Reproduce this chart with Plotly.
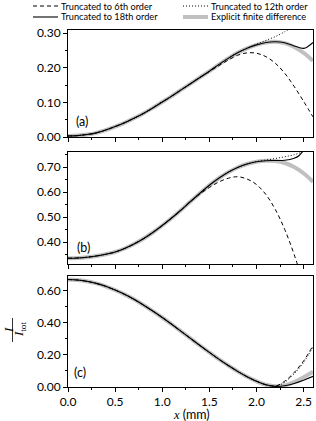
import plotly.graph_objects as go

# ---------------- data ----------------
X = [0.0, 0.1, 0.2, 0.3, 0.4, 0.5, 0.6, 0.7, 0.8, 0.9, 1.0, 1.1, 1.2, 1.3,
     1.4, 1.5, 1.6, 1.7, 1.8, 1.9, 2.0, 2.1, 2.2, 2.3, 2.4, 2.5, 2.6]

# panel (a)
a_fd = [0.003, 0.004, 0.007, 0.012, 0.020, 0.030, 0.041, 0.054, 0.068, 0.084,
        0.101, 0.118, 0.136, 0.154, 0.172, 0.190, 0.209, 0.227, 0.243, 0.256,
        0.266, 0.273, 0.275, 0.271, 0.260, 0.243, 0.220]
a6_x = [1.5, 1.6, 1.7, 1.8, 1.9, 2.0, 2.1, 2.2, 2.3, 2.4, 2.5, 2.6]
a6_y = [0.189, 0.206, 0.222, 0.236, 0.243, 0.242, 0.232, 0.213, 0.184, 0.146, 0.103, 0.058]
a12_x = [2.0, 2.1, 2.2, 2.3, 2.4]
a12_y = [0.268, 0.279, 0.290, 0.304, 0.320]
a18_x = [2.3, 2.4, 2.5, 2.55, 2.6]
a18_y = [0.272, 0.263, 0.256, 0.262, 0.273]

# panel (b)
b_fd = [0.335, 0.336, 0.339, 0.344, 0.351, 0.360, 0.374, 0.392, 0.413, 0.438,
        0.466, 0.496, 0.528, 0.562, 0.595, 0.627, 0.655, 0.679, 0.698, 0.712,
        0.721, 0.725, 0.724, 0.716, 0.700, 0.675, 0.641]
b6_x = [1.4, 1.5, 1.6, 1.7, 1.8, 1.9, 2.0, 2.1, 2.2, 2.3, 2.4, 2.5]
b6_y = [0.592, 0.618, 0.640, 0.655, 0.661, 0.652, 0.630, 0.590, 0.530, 0.450, 0.350, 0.230]
b12_x = [2.0, 2.1, 2.2, 2.3, 2.4, 2.5]
b12_y = [0.722, 0.728, 0.734, 0.741, 0.749, 0.762]
b18_x = [2.2, 2.3, 2.4, 2.45, 2.5]
b18_y = [0.726, 0.727, 0.735, 0.745, 0.768]

# panel (c)
c_fd = [0.668, 0.665, 0.657, 0.644, 0.626, 0.603, 0.576, 0.545, 0.510, 0.472,
        0.432, 0.390, 0.346, 0.302, 0.258, 0.215, 0.173, 0.134, 0.097, 0.064,
        0.036, 0.014, 0.004, 0.010, 0.030, 0.060, 0.095]
c6_x = [2.2, 2.3, 2.4, 2.5, 2.6]
c6_y = [0.006, 0.036, 0.090, 0.162, 0.258]
c12_x = [2.2, 2.3, 2.4, 2.5, 2.6]
c12_y = [0.005, 0.030, 0.082, 0.152, 0.248]
c18_x = [2.3, 2.4, 2.5, 2.6]
c18_y = [0.008, 0.022, 0.042, 0.066]

legend_names = ["Truncated to 6th order", "Truncated to 12th order",
                "Truncated to 18th order", "Explicit finite difference"]
panel_labels = ["(a)", "(b)", "(c)"]

# ---------------- layout helpers ----------------
W, H = 316, 421
PL, PR, PT, PB = 68, 313, 30, 387          # plot area in page pixels
ML, MR, MT, MB = PL, W - PR, PT, H - PB
PW, PH = PR - PL, PB - PT


def px(xp):
    return (xp - PL) / PW


def py(yp):
    return (PB - yp) / PH


GRAY = "#c0c0c0"
FONT = "Lato"


def join(prefix_x, prefix_y, tx, ty):
    xs = [v for v in prefix_x if v < tx[0] - 1e-9] + list(tx)
    ys = prefix_y[:len(xs) - len(tx)] + list(ty)
    return xs, ys


fig = go.Figure()

panels = [
    (a_fd, a6_x, a6_y, a12_x, a12_y, a18_x, a18_y, "y"),
    (b_fd, b6_x, b6_y, b12_x, b12_y, b18_x, b18_y, "y2"),
    (c_fd, c6_x, c6_y, c12_x, c12_y, c18_x, c18_y, "y3"),
]
xaxes = ["x", "x2", "x3"]

for i, (fd, x6, y6, x12, y12, x18, y18, yax) in enumerate(panels):
    xa = xaxes[i]
    fig.add_trace(go.Scatter(x=X, y=fd, mode="lines", xaxis=xa, yaxis=yax,
                             line=dict(color=GRAY, width=4, shape="spline"),
                             showlegend=False))
    xs, ys = join(X, fd, x18, y18)
    fig.add_trace(go.Scatter(x=xs, y=ys, mode="lines", xaxis=xa, yaxis=yax,
                             line=dict(color="black", width=1.1, shape="spline"),
                             showlegend=False))
    xs, ys = join(X, fd, x12, y12)
    fig.add_trace(go.Scatter(x=xs, y=ys, mode="lines", xaxis=xa, yaxis=yax,
                             line=dict(color="black", width=1, dash="1px,2px", shape="spline"),
                             showlegend=False))
    xs, ys = join(X, fd, x6, y6)
    fig.add_trace(go.Scatter(x=xs, y=ys, mode="lines", xaxis=xa, yaxis=yax,
                             line=dict(color="black", width=1, dash="4px,3px", shape="spline"),
                             showlegend=False))

# panel pixel boxes (top, bottom), page pixels
boxes = [(30, 137), (152, 264), (276, 387)]
yranges = [[0, 0.309], [0.312, 0.76], [0, 0.69]]
ydticks = [0.1, 0.1, 0.2]
yminor = [0.05, 0.05, 0.1]

axis_common = dict(showline=True, linecolor="black", linewidth=1, mirror=True,
                   ticks="outside", ticklen=4, tickwidth=1, tickcolor="black",
                   showgrid=False, zeroline=False,
                   tickfont=dict(family=FONT, size=12, color="black"))

layout = dict(width=W, height=H, margin=dict(l=ML, r=MR, t=MT, b=MB),
              paper_bgcolor="white", plot_bgcolor="white", showlegend=False)

for i in range(3):
    top, bot = boxes[i]
    suffix = "" if i == 0 else str(i + 1)
    layout["xaxis" + suffix] = dict(
        axis_common, domain=[0, 1], range=[0, 2.6], dtick=0.5, tick0=0,
        tickformat=".1f", showticklabels=(i == 2),
        anchor="y" + suffix,
        minor=dict(dtick=0.25, ticklen=2, tickcolor="black", ticks="outside"))
    layout["yaxis" + suffix] = dict(
        axis_common, domain=[py(bot), py(top)], range=yranges[i],
        dtick=ydticks[i], tick0=0, tickformat=".2f", anchor="x" + suffix,
        minor=dict(dtick=yminor[i], ticklen=2, tickcolor="black", ticks="outside"))

fig.update_layout(**layout)

annotations = []
shapes = []


def note(xp, yp, text, font, xanchor="center", yanchor="middle", **kw):
    annotations.append(dict(x=px(xp), y=py(yp), xref="paper", yref="paper",
                            xanchor=xanchor, yanchor=yanchor, text=text,
                            showarrow=False, font=font, **kw))


# panel labels
label_pos = [(82, 122), (83, 247), (80, 372)]
for (lx, ly), t in zip(label_pos, panel_labels):
    note(lx, ly, t, dict(family=FONT, size=12.5, color="black"))

# legend (manual)
leg_font = dict(family=FONT, size=9.2, color="black")
rows = [6, 17]
entries = [
    (33, rows[0], dict(color="black", width=1, dash="4px,3px"), legend_names[0]),
    (183, rows[0], dict(color="black", width=1, dash="1px,2px"), legend_names[1]),
    (33, rows[1], dict(color="black", width=1.1), legend_names[2]),
    (183, rows[1], dict(color=GRAY, width=4), legend_names[3]),
]
for sx, sy, ln, txt in entries:
    shapes.append(dict(type="line", xref="paper", yref="paper",
                       x0=px(sx), x1=px(sx + 25), y0=py(sy), y1=py(sy), line=ln))
    note(sx + 25.5, sy, txt, leg_font, xanchor="left")

# x-axis title
note(191, 414, '<i><span style="font-family:Liberation Serif">x</span></i> (mm)',
     dict(family=FONT, size=12.5, color="black"))

# y-axis fraction label for (c), rotated
serif = dict(family="Liberation Serif", size=13, color="black")
note(8, 330, "<i>I</i>", serif, textangle=-90)
note(19, 330, "<i>I</i><sub>tot</sub>", serif, textangle=-90)
shapes.append(dict(type="line", xref="paper", yref="paper",
                   x0=px(12.5), x1=px(12.5), y0=py(318), y1=py(342),
                   line=dict(color="black", width=0.8)))

fig.update_layout(annotations=annotations, shapes=shapes)

fig.write_html("out.html", config={"displayModeBar": False},
               post_script="document.body.style.margin='0px';")
